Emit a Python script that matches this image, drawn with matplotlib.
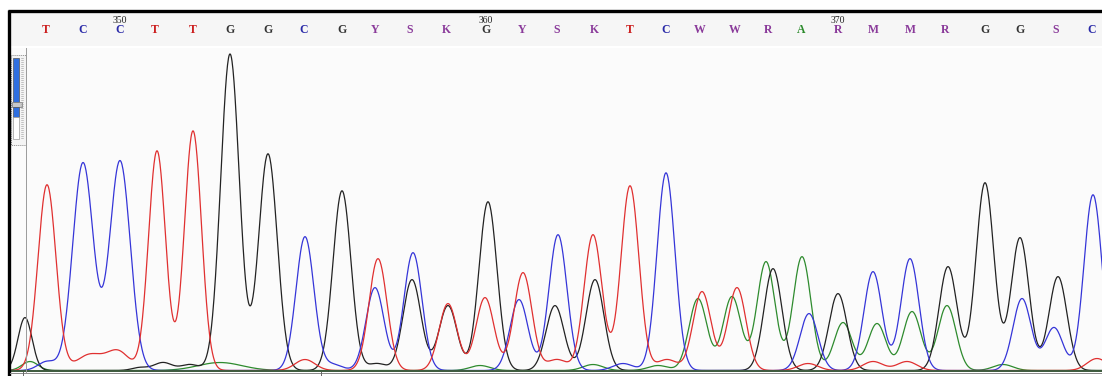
import numpy as np
import matplotlib
matplotlib.use("Agg")
import matplotlib.pyplot as plt
from matplotlib.patches import Rectangle

# base calls (header) and their scan positions
bases = list("TCCTTGGCGYSKGYSKTCWWRARMMRGGSC")
base_scan = [46, 83, 120, 155, 193, 230, 268, 304, 342, 375, 410, 446, 486, 522, 557,
             594, 630, 666, 700, 735, 768, 801, 838, 873, 910, 945, 985, 1020, 1056, 1092]
first_base = 348
label_every = 10

# peaks per channel: scan position, height, width
t_pos = [47, 90, 118, 157, 193, 305, 378, 448, 485, 523, 557, 593, 630, 667, 702, 737, 808, 873, 907, 1097]
t_amp = [186, 16, 19, 220, 240, 11, 112, 67, 73, 98, 11, 136, 185, 11, 79, 83, 7, 9, 9, 12]
t_wid = [9, 13, 11, 8.5, 8.5, 10, 9, 9, 9, 9, 10, 9, 9, 10, 9, 9, 10, 10, 10, 10]

c_pos = [47, 83, 120, 305, 333, 375, 413, 519, 558, 623, 666, 809, 873, 910, 1022, 1054, 1093]
c_amp = [9, 208, 210, 134, 6, 83, 118, 71, 136, 7, 198, 57, 99, 112, 72, 43, 176]
c_wid = [9, 10.3, 10.3, 9, 9, 9, 9, 9, 9, 10, 9, 9, 9, 9, 9, 9, 9]

g_pos = [25, 140, 163, 190, 230, 268, 342, 377, 412, 448, 488, 555, 595, 773, 838, 948, 985, 1020, 1058]
g_amp = [53, 3, 8, 6, 317, 217, 180, 7, 91, 65, 169, 65, 91, 102, 77, 104, 188, 133, 94]
g_wid = [7, 8, 9, 9, 9.3, 9.3, 9, 9, 9, 9, 9, 9, 9, 9, 9, 9, 9, 9, 9]

a_pos = [30, 220, 480, 593, 658, 698, 732, 766, 802, 843, 877, 912, 947, 1003]
a_amp = [9, 8, 5, 6, 5, 72, 74, 109, 114, 48, 47, 59, 65, 6]
a_wid = [8, 22, 10, 10, 10, 9, 9, 9, 9, 9, 9, 9, 9, 10]

scan = np.arange(10, 1103, 0.5)


def trace(pos, amp, wid):
    y = np.zeros_like(scan)
    for p, a, w in zip(pos, amp, wid):
        y += a * np.exp(-0.5 * ((scan - p) / w) ** 2)
    return y


W, H = 1102, 376
fig = plt.figure(figsize=(W / 100, H / 100), dpi=100)
fig.patch.set_facecolor("white")

# trace panel
ax = fig.add_axes([10 / W, 4 / H, 1092 / W, 324 / H])
ax.set_facecolor("#fbfbfb")
ax.plot(scan, trace(a_pos, a_amp, a_wid), color="#2e8b2e", lw=0.9)
ax.plot(scan, trace(g_pos, g_amp, g_wid), color="#222222", lw=0.9)
ax.plot(scan, trace(c_pos, c_amp, c_wid), color="#3535d8", lw=0.9)
ax.plot(scan, trace(t_pos, t_amp, t_wid), color="#e03030", lw=0.9)
ax.axhline(0, color="#3d5a3d", lw=1.4)
ax.set_xlim(10, 1102)
ax.set_ylim(-1.5, 323)
ax.set_xticks([])
ax.set_yticks([])
for s in ax.spines.values():
    s.set_visible(False)

# header with base calls
hx = fig.add_axes([10 / W, (H - 46) / H, 1092 / W, 34 / H])
hx.set_facecolor("#f6f6f6")
hx.set_xlim(10, 1102)
hx.set_ylim(0, 1)
hx.set_xticks([])
hx.set_yticks([])
for s in hx.spines.values():
    s.set_visible(False)

base_color = {"T": "#cc2020", "C": "#2a2aa8", "G": "#333333", "A": "#2a8a2a"}
for i, (b, x) in enumerate(zip(bases, base_scan)):
    hx.text(x, 0.48, b, ha="center", va="center", fontsize=8.5, fontweight="bold",
            family="Liberation Serif", color=base_color.get(b, "#8a3a9a"))
    if (first_base + i) % label_every == 0:
        hx.text(x, 0.75, str(first_base + i), ha="center", va="center", fontsize=7,
                family="Liberation Serif", color="#222222")

# frame and scroll widget, in pixel coordinates
ov = fig.add_axes([0, 0, 1, 1], facecolor="none")
ov.set_xlim(0, W)
ov.set_ylim(H, 0)
ov.axis("off")
ov.plot([8, W], [10.5, 10.5], color="black", lw=2.4, solid_capstyle="butt")
ov.plot([8.5, 8.5], [10, H], color="black", lw=2.4, solid_capstyle="butt")
ov.plot([25.5, 25.5], [48, 372], color="#9a9a9a", lw=0.7)
ov.plot([10, W], [372.5, 372.5], color="#8a8a8a", lw=0.7)
ov.plot([23, 23], [372, H], color="#666666", lw=0.7)
ov.plot([321, 321], [372, H], color="#666666", lw=0.7)
ov.add_patch(Rectangle((11, 55), 15, 90, facecolor="#f4f4f4", edgecolor="#8a8a8a", lw=0.7, ls=(0, (1, 1))))
ov.add_patch(Rectangle((13, 58), 6, 44, facecolor="#2f6fe0", edgecolor="#555555", lw=0.5))
ov.add_patch(Rectangle((11.5, 102), 10, 5, facecolor="#c8c8c8", edgecolor="#777777", lw=0.5))
ov.add_patch(Rectangle((13, 107), 6, 10, facecolor="#2f6fe0", edgecolor="#555555", lw=0.5))
ov.add_patch(Rectangle((13, 117), 6, 22, facecolor="white", edgecolor="#999999", lw=0.5))
for yy in np.arange(58, 140, 2):
    ov.plot([21, 23], [yy, yy], color="#999999", lw=0.4)

fig.savefig("out.png", dpi=100)
